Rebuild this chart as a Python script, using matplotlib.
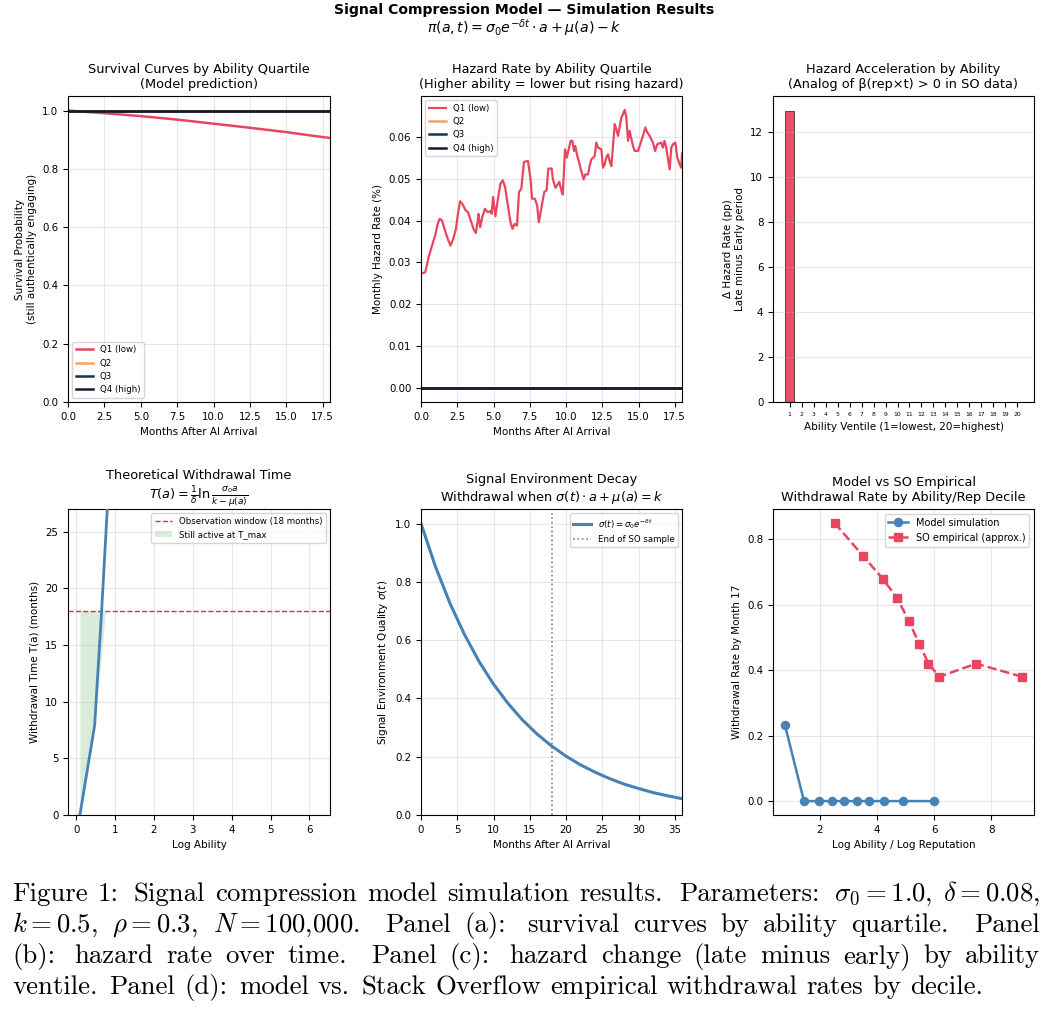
import matplotlib
matplotlib.use("Agg")
import matplotlib.pyplot as plt
from matplotlib.patches import Patch
from matplotlib.lines import Line2D
import numpy as np

# ---------------- data ----------------
quartile_labels = ["Q1 (low)", "Q2", "Q3", "Q4 (high)"]
quartile_colors = ["#e94560", "#f4a261", "#0f3460", "#1a1a2e"]

surv_months = [0, 2.5, 5, 7.5, 10, 12.5, 15, 17.5, 18]
surv_q1 = [1.0, 0.991, 0.981, 0.969, 0.955, 0.941, 0.926, 0.909, 0.906]
surv_q2 = [1.0, 1.0, 1.0, 1.0, 1.0, 1.0, 1.0, 1.0, 1.0]
surv_q3 = [1.0, 1.0, 1.0, 1.0, 1.0, 1.0, 1.0, 1.0, 1.0]
surv_q4 = [1.0, 1.0, 1.0, 1.0, 1.0, 1.0, 1.0, 1.0, 1.0]

hazard_months = [0.0, 0.29, 0.52, 0.76, 0.99, 1.15, 1.29, 1.45, 1.69, 1.85,
                 2.03, 2.22, 2.41, 2.55, 2.69, 2.85, 3.08, 3.24, 3.43, 3.62,
                 3.78, 3.9, 3.97, 4.08, 4.24, 4.41, 4.59, 4.78, 4.87, 4.97,
                 5.13, 5.29, 5.48, 5.64, 5.8, 5.99, 6.17, 6.31, 6.45, 6.62,
                 6.76, 6.92, 7.1, 7.38, 7.55, 7.66, 7.85, 8.01, 8.13, 8.31,
                 8.5, 8.66, 8.78, 9.01, 9.1, 9.27, 9.54, 9.72, 9.78, 9.93,
                 10.05, 10.32, 10.44, 10.55, 10.64, 10.78, 10.94, 11.05, 11.22, 11.33,
                 11.52, 11.63, 11.75, 11.98, 12.09, 12.21, 12.44, 12.55, 12.67, 12.78,
                 12.9, 13.01, 13.13, 13.36, 13.47, 13.59, 13.82, 13.93, 14.05, 14.16,
                 14.28, 14.39, 14.62, 14.74, 14.97, 15.19, 15.31, 15.47, 15.61, 15.77,
                 15.99, 16.15, 16.29, 16.56, 16.68, 16.79, 16.91, 17.15, 17.26, 17.38,
                 17.54, 17.68, 17.84, 17.95, 18.0]
hazard_q1 = [0.0274, 0.0276, 0.0312, 0.034, 0.0366, 0.0392, 0.0404, 0.04, 0.0372, 0.0356,
             0.034, 0.0356, 0.038, 0.0416, 0.0446, 0.044, 0.0424, 0.042, 0.04, 0.038,
             0.037, 0.0396, 0.0416, 0.0384, 0.041, 0.0428, 0.042, 0.0422, 0.0416, 0.0456,
             0.041, 0.0448, 0.0488, 0.0496, 0.048, 0.0436, 0.0396, 0.038, 0.0392, 0.0388,
             0.0468, 0.0476, 0.054, 0.0542, 0.05, 0.0452, 0.0452, 0.0436, 0.0396, 0.0432,
             0.0468, 0.0472, 0.0524, 0.0524, 0.0498, 0.0478, 0.0492, 0.0466, 0.0462, 0.057,
             0.055, 0.059, 0.059, 0.0566, 0.0578, 0.0554, 0.0534, 0.0518, 0.0498, 0.051,
             0.051, 0.053, 0.0546, 0.0554, 0.0586, 0.0574, 0.057, 0.0526, 0.0534, 0.055,
             0.0558, 0.0542, 0.053, 0.063, 0.0618, 0.0602, 0.0646, 0.0654, 0.0664, 0.0646,
             0.059, 0.0614, 0.0578, 0.0566, 0.0566, 0.059, 0.0602, 0.0622, 0.061, 0.0602,
             0.0586, 0.0566, 0.0582, 0.0586, 0.0574, 0.059, 0.0574, 0.0522, 0.0574, 0.0582,
             0.0586, 0.055, 0.0534, 0.0526, 0.056]
hazard_zero_months = [0.0, 18.0]
hazard_q2 = [0.0, 0.0]
hazard_q3 = [0.0, 0.0]
hazard_q4 = [0.0, 0.0]

ventiles = list(range(1, 21))
delta_hazard = [12.95] + [0.0] * 19

log_ability_T = [0.096, 0.475, 0.655, 0.80, 0.83]
withdrawal_T = [0.0, 7.9, 18.0, 27.0, 28.8]
active_log_ability = [0.096, 0.475, 0.76]
active_T = [0.0, 7.9, 18.0]
T_max = 18

sigma_months = [0, 2, 4, 6, 8, 10, 12, 14, 16, 18, 20, 22, 24, 26, 28, 30, 32, 34, 36]
sigma_vals = [1.0, 0.852, 0.726, 0.619, 0.527, 0.449, 0.383, 0.326, 0.278, 0.237,
              0.202, 0.172, 0.147, 0.125, 0.106, 0.091, 0.077, 0.066, 0.056]
so_sample_end = 18

model_x = [0.77, 1.44, 1.98, 2.42, 2.85, 3.30, 3.73, 4.25, 4.91, 5.98]
model_y = [0.233, 0.0, 0.0, 0.0, 0.0, 0.0, 0.0, 0.0, 0.0, 0.0]
so_x = [2.51, 3.50, 4.19, 4.71, 5.11, 5.48, 5.80, 6.18, 7.47, 9.08]
so_y = [0.85, 0.75, 0.68, 0.62, 0.55, 0.48, 0.42, 0.38, 0.42, 0.38]

# ---------------- figure ----------------
W_PX, H_PX = 1048, 1013
fig = plt.figure(figsize=(W_PX / 100, H_PX / 100), dpi=100)

TITLE_FS = 9.3
LABEL_FS = 7.5
TICK_FS = 7.4
LEG_FS = 6.2
GRID_KW = dict(alpha=0.3)

def px_axes(left, top, right, bottom):
    return fig.add_axes([left / W_PX, 1 - bottom / H_PX, (right - left) / W_PX, (bottom - top) / H_PX])

ax_a = px_axes(68, 96, 330, 402)
ax_b = px_axes(421, 96, 682, 402)
ax_c = px_axes(773, 96, 1034, 402)
ax_d = px_axes(68, 509, 330, 815)
ax_e = px_axes(421, 509, 682, 815)
ax_f = px_axes(773, 509, 1034, 815)

for ax in [ax_a, ax_b, ax_c, ax_d, ax_e, ax_f]:
    ax.tick_params(labelsize=TICK_FS)

# (a) survival
for vals, lab, col in zip([surv_q1, surv_q2, surv_q3, surv_q4], quartile_labels, quartile_colors):
    ax_a.plot(surv_months, vals, color=col, lw=1.8, label=lab)
ax_a.set_xlim(0, 18)
ax_a.set_ylim(0, 1.05)
ax_a.set_title("Survival Curves by Ability Quartile\n(Model prediction)", fontsize=TITLE_FS)
ax_a.set_xlabel("Months After AI Arrival", fontsize=LABEL_FS)
ax_a.set_ylabel("Survival Probability\n(still authentically engaging)", fontsize=LABEL_FS)
ax_a.legend(loc="lower left", fontsize=LEG_FS)
ax_a.grid(True, **GRID_KW)

# (b) hazard
ax_b.plot(hazard_months, hazard_q1, color=quartile_colors[0], lw=1.6, label=quartile_labels[0])
for vals, lab, col in zip([hazard_q2, hazard_q3, hazard_q4], quartile_labels[1:], quartile_colors[1:]):
    ax_b.plot(hazard_zero_months, vals, color=col, lw=1.8, label=lab)
ax_b.set_xlim(0, 18)
ax_b.set_title("Hazard Rate by Ability Quartile\n(Higher ability = lower but rising hazard)", fontsize=TITLE_FS)
ax_b.set_xlabel("Months After AI Arrival", fontsize=LABEL_FS)
ax_b.set_ylabel("Monthly Hazard Rate (%)", fontsize=LABEL_FS)
ax_b.legend(loc="upper left", fontsize=LEG_FS)
ax_b.grid(True, **GRID_KW)

# (c) hazard acceleration
ax_c.bar(ventiles, delta_hazard, width=0.8, color="#e94560", edgecolor="#333333", linewidth=0.6, alpha=0.95)
ax_c.set_xticks(ventiles)
ax_c.set_xticklabels([str(v) for v in ventiles], fontsize=4.3)
ax_c.set_title("Hazard Acceleration by Ability\n(Analog of \u03b2(rep\u00d7t) > 0 in SO data)", fontsize=TITLE_FS)
ax_c.set_xlabel("Ability Ventile (1=lowest, 20=highest)", fontsize=LABEL_FS)
ax_c.set_ylabel("\u0394 Hazard Rate (pp)\nLate minus Early period", fontsize=LABEL_FS)
ax_c.grid(True, axis="y", **GRID_KW)

# (d) theoretical withdrawal time
ax_d.fill_between(active_log_ability, active_T, T_max, color="green", alpha=0.15, linewidth=0, zorder=1)
ax_d.plot(log_ability_T, withdrawal_T, color="#4682b4", lw=2, zorder=3)
ax_d.axhline(T_max, color="red", ls="--", lw=1, alpha=0.85, zorder=2)
ax_d.set_xlim(-0.21, 6.53)
ax_d.set_ylim(0, 27)
ax_d.set_title("Theoretical Withdrawal Time\n" + r"$T(a) = \frac{1}{\delta}\ln\frac{\sigma_0 a}{k - \mu(a)}$", fontsize=TITLE_FS)
ax_d.set_xlabel("Log Ability", fontsize=LABEL_FS)
ax_d.set_ylabel("Withdrawal Time T(a) (months)", fontsize=LABEL_FS)
ax_d.legend(handles=[Line2D([], [], color="red", ls="--", lw=1, alpha=0.85),
                     Patch(facecolor="green", alpha=0.15)],
            labels=["Observation window (18 months)", "Still active at T_max"],
            loc="upper right", fontsize=LEG_FS)
ax_d.grid(True, **GRID_KW)

# (e) signal decay
ax_e.plot(sigma_months, sigma_vals, color="#4682b4", lw=2.2, label=r"$\sigma(t) = \sigma_0 e^{-\delta t}$")
ax_e.axvline(so_sample_end, color="gray", ls=":", lw=1.2, label="End of SO sample")
ax_e.set_xlim(0, 36)
ax_e.set_ylim(0, 1.05)
ax_e.set_title("Signal Environment Decay\nWithdrawal when " + r"$\sigma(t) \cdot a + \mu(a) = k$", fontsize=TITLE_FS)
ax_e.set_xlabel("Months After AI Arrival", fontsize=LABEL_FS)
ax_e.set_ylabel(r"Signal Environment Quality $\sigma(t)$", fontsize=LABEL_FS)
ax_e.legend(loc="upper right", fontsize=LEG_FS)
ax_e.grid(True, **GRID_KW)

# (f) model vs empirical
ax_f.plot(model_x, model_y, color="#4682b4", marker="o", ms=5.8, lw=1.8, label="Model simulation")
ax_f.plot(so_x, so_y, color="#e94560", marker="s", ms=5.8, lw=1.8, ls="--", label="SO empirical (approx.)")
ax_f.set_title("Model vs SO Empirical\nWithdrawal Rate by Ability/Rep Decile", fontsize=TITLE_FS)
ax_f.set_xlabel("Log Ability / Log Reputation", fontsize=LABEL_FS)
ax_f.set_ylabel("Withdrawal Rate by Month 17", fontsize=LABEL_FS)
ax_f.legend(loc="upper right", fontsize=7.0)
ax_f.grid(True, **GRID_KW)

# suptitle
fig.text(0.5, 1 - 10 / H_PX, "Signal Compression Model \u2014 Simulation Results",
         ha="center", va="center", fontsize=10.1, fontweight="bold")
fig.text(0.5, 1 - 28 / H_PX, r"$\pi(a,t) = \sigma_0 e^{-\delta t} \cdot a + \mu(a) - k$",
         ha="center", va="center", fontsize=10.2)

# caption (TeX-like justified lines, Computer Modern)
cap_lines = [
    ["Figure", "1:", "Signal", "compression", "model", "simulation", "results.", "Parameters:",
     r"$\sigma_0 = 1.0$,", r"$\delta = 0.08$,"],
    [r"$k = 0.5$,", r"$\rho = 0.3$,", r"$N = 100{,}000$.", "Panel", "(a):", "survival", "curves", "by",
     "ability", "quartile.", "Panel"],
    ["(b):", "hazard", "rate", "over", "time.", "Panel", "(c):", "hazard", "change", "(late",
     "minus", "early)", "by", "ability"],
    ["ventile.", "Panel", "(d):", "model", "vs.", "Stack", "Overflow", "empirical", "withdrawal",
     "rates", "by", "decile."],
]
cap_baselines = [901, 932, 963, 994]
CAP_FS = 19.3
EM = CAP_FS * 100 / 72
x_left, x_right = 12, 1040
renderer = fig.canvas.get_renderer()


def glue(tok):
    # (natural, stretch) in em, following TeX space factors
    if tok.endswith("."):
        return 0.444, 0.5
    if tok.endswith(":"):
        return 0.444, 0.333
    if tok.endswith(","):
        return 0.333, 0.208
    return 0.333, 0.1667


for i, (tokens, yb) in enumerate(zip(cap_lines, cap_baselines)):
    texts = [fig.text(0, 1 - yb / H_PX, tok, fontsize=CAP_FS, family="cmr10",
                      math_fontfamily="cm", va="baseline", ha="left") for tok in tokens]
    widths = [t.get_window_extent(renderer).width for t in texts]
    glues = [glue(tok) for tok in tokens[:-1]]
    nat = sum(g[0] for g in glues) * EM
    st = sum(g[1] for g in glues) * EM
    if i < len(cap_lines) - 1:
        r = (x_right - x_left - sum(widths) - nat) / st
    else:
        r = 0.0
    x = x_left
    for j, (t, w) in enumerate(zip(texts, widths)):
        t.set_x(x / W_PX)
        if j < len(glues):
            x += w + (glues[j][0] + glues[j][1] * r) * EM

fig.savefig("out.png", dpi=100)
